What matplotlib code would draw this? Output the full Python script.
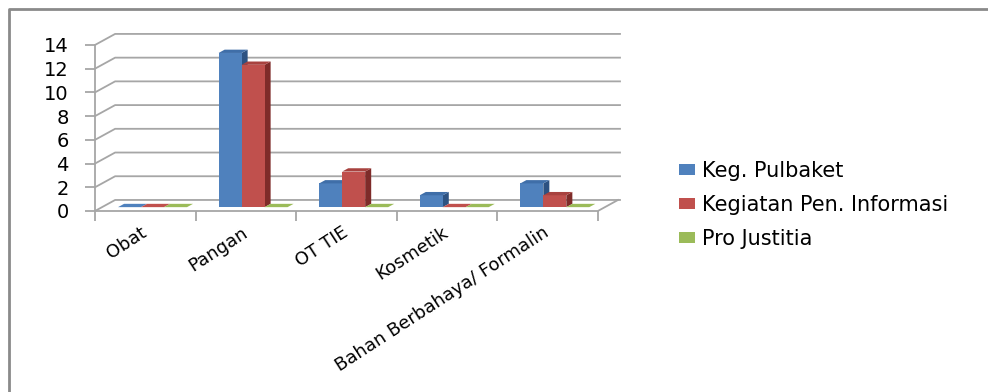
import numpy as np
import matplotlib
matplotlib.use("Agg")
import matplotlib.pyplot as plt
from matplotlib.patches import Polygon, Rectangle, Patch
from matplotlib.lines import Line2D
import matplotlib.transforms as mtransforms

plt.rcParams["font.family"] = ["DejaVu Sans"]

categories = ["Obat", "Pangan", "OT TIE", "Kosmetik", "Bahan Berbahaya/ Formalin"]
series = ["Keg. Pulbaket", "Kegiatan Pen. Informasi", "Pro Justitia"]
pulbaket = [0, 13, 2, 1, 2]
informasi = [0, 12, 3, 0, 1]
justitia = [0, 0, 0, 0, 0]
values = [pulbaket, informasi, justitia]
yticks = [0, 2, 4, 6, 8, 10, 12, 14]

# front / top / side shades per series
front_c = ["#4F81BD", "#C0504D", "#9BBB59"]
top_c = ["#3F6EA8", "#A8423F", "#7F9C46"]
side_c = ["#2D5282", "#7E2B29", "#5E7633"]
grid_c = "#a6a6a6"

W, H = 988, 392
fig = plt.figure(figsize=(W / 100, H / 100), dpi=100)

# pixel layout of the plot area
px_unit_y = 11.86
y0_px = H - 211
ytop = 15.3
xmax = 5.22
ax = fig.add_axes([95 / W, y0_px / H, 525 / W, ytop * px_unit_y / H])
ax.set_xlim(0, xmax)
ax.set_ylim(0, ytop)

DX, DY = 0.2, 0.93      # full depth offset in data units
d0, d1 = 0.35, 0.65     # bar depth span
gap, bw = 0.159, 0.2286

# back wall + side wall gridlines
for v in yticks:
    ax.plot([0, DX, xmax], [v, v + DY, v + DY], color=grid_c, lw=1.3, zorder=1, clip_on=False)
# floor front and right edge
ax.plot([0, 5, 5 + DX], [0, 0, DY], color=grid_c, lw=1.3, zorder=1, clip_on=False)

z = 2
for i in range(len(categories)):
    for k in range(len(series)):
        v = values[k][i]
        xl = i + gap + k * bw + d0 * DX
        xr = xl + bw
        yb = d0 * DY
        ox, oy = (d1 - d0) * DX, (d1 - d0) * DY
        if v > 0:
            ax.add_patch(Polygon([[xr, yb], [xr + ox, yb + oy], [xr + ox, yb + oy + v], [xr, yb + v]],
                                 closed=True, fc=side_c[k], ec="none", zorder=z, clip_on=False))
            ax.add_patch(Rectangle((xl, yb), bw, v, fc=front_c[k], ec="none", zorder=z, clip_on=False))
        ax.add_patch(Polygon([[xl, yb + v], [xr, yb + v], [xr + ox, yb + oy + v], [xl + ox, yb + oy + v]],
                             closed=True, fc=top_c[k] if v > 0 else front_c[k], ec="none",
                             zorder=z, clip_on=False))
        z += 1

for s in ["top", "right", "bottom"]:
    ax.spines[s].set_visible(False)
ax.spines["left"].set_color(grid_c)
ax.spines["left"].set_linewidth(1.3)
ax.spines["left"].set_bounds(0, 14)
ax.set_yticks(yticks)
ax.tick_params(axis="y", length=7, width=1.3, color=grid_c, pad=12, labelsize=14, labelcolor="#000000")

ax.set_xticks(np.arange(len(categories)) + 0.5)
ax.set_xticks(np.arange(len(categories) + 1), minor=True)
ax.tick_params(axis="x", which="minor", length=7, width=1.3, color=grid_c)
ax.tick_params(axis="x", which="major", length=0, pad=8)
ax.set_xticklabels(categories, rotation=33, ha="right", va="center",
                   rotation_mode="anchor", fontsize=13)
shift = mtransforms.ScaledTranslation(0, -6.5 / 72, fig.dpi_scale_trans)
for lab in ax.get_xticklabels():
    lab.set_transform(lab.get_transform() + shift)

handles = [Patch(fc=front_c[k], ec="none") for k in range(len(series))]
fig.legend(handles, series, loc="center left", bbox_to_anchor=(660 / W, 1 - 205 / H),
           frameon=False, fontsize=15, handlelength=0.77, handleheight=0.4,
           handletextpad=0.34, labelspacing=0.68)

# chart area border (only top and left edges are in view)
fig.add_artist(Line2D([9 / W, 9 / W, 1.0], [0, 1 - 9 / H, 1 - 9 / H],
                      transform=fig.transFigure, color="#8a8a8a", lw=2))

fig.savefig("out.png", dpi=100, facecolor="white")
